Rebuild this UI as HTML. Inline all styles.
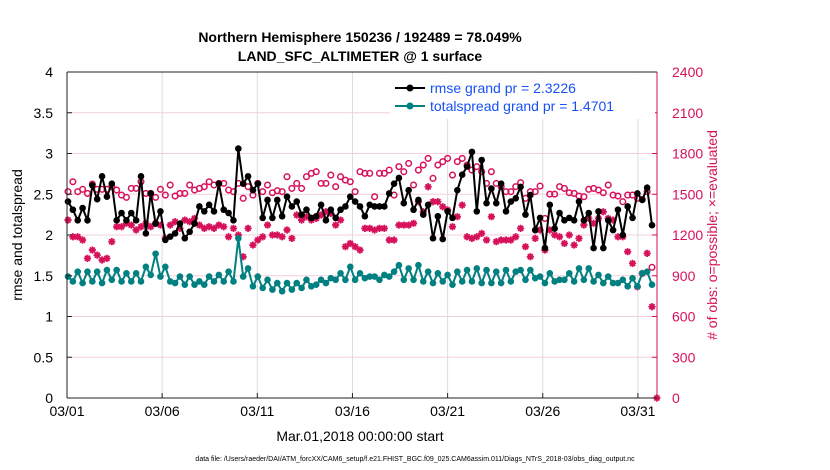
<!DOCTYPE html>
<html><head><meta charset="utf-8"><style>
body{margin:0;background:#fff;}
svg{display:block;font-family:"Liberation Sans",sans-serif;}
</style></head><body>
<svg id="chart" width="830" height="470" viewBox="0 0 830 470">
<rect width="830" height="470" fill="#fff"/>
<g id="grid"></g>
<g id="series"></g>
<g id="axes"></g>
<text x="360" y="42" font-size="14" font-weight="bold" text-anchor="middle">Northern Hemisphere 150236 / 192489 = 78.049%</text>
<text x="360" y="61" font-size="14" font-weight="bold" text-anchor="middle">LAND_SFC_ALTIMETER @ 1 surface</text>
<text transform="translate(22,235) rotate(-90)" font-size="14" text-anchor="middle">rmse and totalspread</text>
<text transform="translate(717,235) rotate(-90)" font-size="14" fill="#d6115a" text-anchor="middle"># of obs: o=possible; ×=evaluated</text>
<text x="360" y="441" font-size="14" text-anchor="middle">Mar.01,2018 00:00:00 start</text>
<text x="415" y="461" font-size="7" text-anchor="middle">data file: /Users/raeder/DAI/ATM_forcXX/CAM6_setup/f.e21.FHIST_BGC.f09_025.CAM6assim.011/Diags_NTrS_2018-03/obs_diag_output.nc</text>
<g>
<rect x="390" y="73" width="265" height="46" fill="#fff"/>
<g>
<line x1="395" y1="88" x2="425" y2="88" stroke="#000" stroke-width="2"/>
<circle cx="410" cy="88" r="3.5" fill="#000"/>
<text x="430" y="93" font-size="14" fill="#1750f5">rmse grand pr = 2.3226</text></g>
<g>
<line x1="395" y1="106" x2="425" y2="106" stroke="#008080" stroke-width="2"/>
<circle cx="410" cy="106" r="3.5" fill="#008080"/>
<text x="430" y="111" font-size="14" fill="#1750f5">totalspread grand pr = 1.4701</text></g>
</g>
</svg>
<script>
const rmse=[2.41,2.31,2.18,2.33,2.18,2.61,2.44,2.72,2.47,2.63,2.18,2.27,2.18,2.27,2.18,2.72,2.02,2.51,2.14,2.29,1.94,1.98,2.02,2.14,1.96,2.04,2.14,2.35,2.29,2.37,2.29,2.63,2.31,
2.27,2.18,3.06,2.63,2.72,2.55,2.63,2.21,2.43,2.21,2.43,2.23,2.47,2.35,2.41,2.25,2.31,2.21,2.23,2.37,2.18,2.31,2.21,2.31,2.35,2.47,2.41,2.35,2.23,2.37,
2.35,2.35,2.35,2.51,2.63,2.70,2.39,2.55,2.31,2.43,2.25,2.37,1.96,2.23,1.95,2.29,2.21,2.55,2.74,2.84,3.02,2.29,2.92,2.39,2.57,2.39,2.63,2.29,2.41,2.45,
2.59,2.25,2.49,2.06,2.21,1.84,2.37,2.08,2.27,2.18,2.21,2.18,2.41,2.18,2.27,1.84,2.29,1.84,2.18,2.06,2.31,2.00,2.35,2.21,2.51,2.43,2.58,2.12];
const spread=[1.49,1.43,1.55,1.41,1.55,1.43,1.55,1.41,1.57,1.45,1.57,1.43,1.53,1.43,1.53,1.43,1.61,1.51,1.77,1.49,1.61,1.43,1.41,1.49,1.39,1.49,1.39,1.43,1.39,1.49,1.43,1.51,1.43,
1.55,1.43,1.96,1.49,1.59,1.37,1.49,1.35,1.45,1.33,1.41,1.31,1.41,1.33,1.41,1.35,1.45,1.37,1.39,1.45,1.41,1.47,1.45,1.53,1.45,1.61,1.45,1.53,1.47,1.49,
1.49,1.45,1.51,1.49,1.55,1.63,1.45,1.59,1.45,1.63,1.43,1.55,1.41,1.53,1.43,1.51,1.39,1.55,1.43,1.57,1.43,1.59,1.41,1.57,1.41,1.55,1.41,1.57,1.43,1.55,
1.57,1.45,1.57,1.47,1.49,1.41,1.53,1.43,1.45,1.45,1.53,1.43,1.59,1.45,1.59,1.43,1.51,1.41,1.49,1.41,1.41,1.45,1.37,1.47,1.37,1.53,1.55,1.39];
const possible=[1519,1592,1519,1536,1506,1575,1536,1536,1536,1556,1531,1494,1477,1543,1543,1592,1506,1506,1477,1536,1494,1568,1487,1506,1506,1568,1531,1543,1556,1592,1568,1580,1580,
1531,1519,1580,1470,1556,1494,1580,1519,1568,1511,1526,1519,1629,1543,1580,1543,1629,1654,1666,1580,1580,1641,1556,1629,1604,1592,1519,1666,1654,1654,
1482,1654,1654,1678,1494,1703,1666,1727,1568,1678,1715,1764,1617,1715,1740,1764,1641,1740,1764,1715,1678,1703,1666,1580,1666,1580,1556,1519,1519,1556,
1585,1470,1519,1519,1560,1322,1501,1501,1556,1543,1511,1506,1487,1482,1536,1543,1531,1511,1568,1494,1487,1445,1494,1494,1470,1462,1519,962];
const evaluated=[1310,1187,1187,1163,1028,1089,1052,1016,1028,1151,1261,1261,1286,1273,1237,1261,1286,1261,1286,1273,1175,1273,1298,1249,1310,1298,1322,1273,1249,1261,1249,1273,1261,
1187,1249,1200,1040,1249,1126,1163,1187,1273,1200,1200,1187,1237,1175,1347,1310,1335,1310,1322,1347,1371,1359,1273,1310,1114,1138,1114,1089,1249,1249,
1237,1249,1249,1163,1163,1273,1273,1273,1286,1445,1371,1555,1445,1445,1408,1384,1261,1335,1420,1187,1175,1187,1212,1163,1335,1151,1163,1163,1163,1187,
1249,1114,1040,1175,1237,1089,1237,1200,1187,1138,1200,1126,1175,1273,1322,1286,1322,1371,1322,1310,1187,1187,1077,991,819,917,1065,672,0];
const leftTicks=[0,0.5,1,1.5,2,2.5,3,3.5,4];
const leftTickLabels=["0","0.5","1","1.5","2","2.5","3","3.5","4"];
const rightTicks=[0,300,600,900,1200,1500,1800,2100,2400];
const xTickDays=[0,5,10,15,20,25,30];
const xTickLabels=["03/01","03/06","03/11","03/16","03/21","03/26","03/31"];

const X0=67,X1=657,Y0=398,Y1=72;
const yL=v=>Y0-(v/4)*(Y0-Y1);
const yR=v=>Y0-(v/2400)*(Y0-Y1);
const xDay=d=>X0+d*19.03;
const xIdx=i=>68+i*(584/120);
const NS="http://www.w3.org/2000/svg";
function mk(tag,attrs,parent){const e=document.createElementNS(NS,tag);for(const k in attrs)e.setAttribute(k,attrs[k]);parent.appendChild(e);return e;}
const grid=document.getElementById('grid'),ser=document.getElementById('series'),ax=document.getElementById('axes');

xTickDays.forEach((d,i)=>{
  const g=mk('line',{x1:xDay(d),x2:xDay(d),y1:Y1,y2:Y0,stroke:'#dcdcdc','stroke-width':1},grid);
  
  
  mk('line',{x1:xDay(d),x2:xDay(d),y1:Y0,y2:Y0-5,stroke:'#222'},ax);
  const t=mk('text',{x:xDay(d),y:416,'font-size':14,'text-anchor':'middle'},ax);
  t.textContent=xTickLabels[i];
  
  
});
rightTicks.forEach((v,i)=>{
  if(v>0&&v<2400){const g=mk('line',{x1:X0,x2:X1,y1:yR(v),y2:yR(v),stroke:'#f3cfdd','stroke-width':1},grid);
  
  }
  mk('line',{x1:X1,x2:X1-5,y1:yR(v),y2:yR(v),stroke:'#d6115a'},ax);
  const t=mk('text',{x:672,y:yR(v)+5,'font-size':14,fill:'#d6115a'},ax);
  t.textContent=String(v);
  
  
});
leftTicks.forEach((v,i)=>{
  mk('line',{x1:X0,x2:X0+5,y1:yL(v),y2:yL(v),stroke:'#222'},ax);
  const t=mk('text',{x:53,y:yL(v)+5,'font-size':14,'text-anchor':'end'},ax);
  t.textContent=leftTickLabels[i];
  
  
});
const ba=mk('line',{x1:X0,x2:X1,y1:Y0,y2:Y0,stroke:'#222'},ax);


const la=mk('line',{x1:X0,x2:X0,y1:Y1,y2:Y0,stroke:'#222'},ax);


const ra=mk('line',{x1:X1,x2:X1,y1:Y1,y2:Y0,stroke:'#d6115a'},ax);


mk('line',{x1:X0,x2:X1,y1:Y1,y2:Y1,stroke:'#222'},ax);

// evaluated asterisks
const gE=mk('g',{},ser);


const R=3.6,D=R*0.707;
evaluated.forEach((v,i)=>{
  const cx=xIdx(i),cy=yR(v);
  const p=mk('path',{d:`M${cx-R},${cy}H${cx+R}M${cx},${cy-R}V${cy+R}M${cx-D},${cy-D}L${cx+D},${cy+D}M${cx-D},${cy+D}L${cx+D},${cy-D}`,stroke:'#d6115a','stroke-width':1.8,fill:'none'},gE);
  
  
});
// possible circles
const gP=mk('g',{},ser);


possible.forEach((v,i)=>{
  const c=mk('circle',{cx:xIdx(i),cy:yR(v),r:2.8,fill:'none',stroke:'#d6115a','stroke-width':1.5},gP);
  
  
});
function line(arr,color,name){
  const g=mk('g',{},ser);
  
  
  mk('polyline',{points:arr.map((v,i)=>xIdx(i)+','+yL(v)).join(' '),fill:'none',stroke:color,'stroke-width':2},g);
  arr.forEach((v,i)=>{
    const c=mk('circle',{cx:xIdx(i),cy:yL(v),r:3.3,fill:color},g);
    
    
  });
}
line(spread,'#008080','totalspread-series');
line(rmse,'#000','rmse-series');
</script>
</body></html>
